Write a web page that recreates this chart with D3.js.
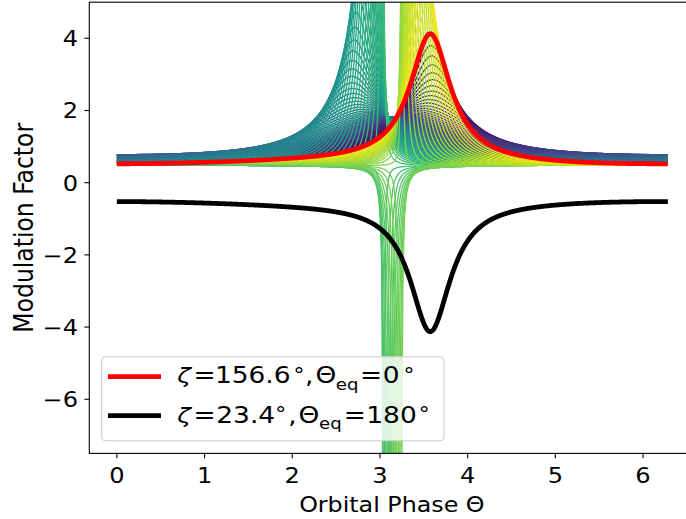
<!DOCTYPE html>
<html>
<head>
<meta charset="utf-8">
<script src="https://cdn.jsdelivr.net/npm/d3@7"></script>
<style>
  html, body { margin: 0; padding: 0; background: #ffffff; }
  text { font-family: "DejaVu Sans", sans-serif; fill: #000000; }
</style>
</head>
<body>
<svg id="chart" width="686" height="519"></svg>
<script>
// ---- model parameters -------------------------------------------------
// observer inclination (degrees)
const inclination = 45;
// highlighted configurations: obliquity ζ and equinox phase Θ_eq (degrees)
const highlightZeta    = [156.6, 23.4];
const highlightThetaEq = [0, 180];
const highlightLabelZeta    = ["156.6", "23.4"];
const highlightLabelThetaEq = ["0", "180"];
// family of curves: same obliquity, equinox phase swept over one turn
const familyZeta = 156.6;
const familyCount = 100;
const familyThetaEq = d3.range(familyCount).map(k => 360 * k / (familyCount - 1));
// axis ticks
const xTicks = [0, 1, 2, 3, 4, 5, 6];
const yTicks = [-6, -4, -2, 0, 2, 4];
// orbital phase sampling
const phaseSamples = 2400;
const thetaGrid = d3.range(phaseSamples + 1).map(k => 2 * Math.PI * k / phaseSamples);

// ---- geometry: apparent spin-phase drift per orbital phase -------------
const rad = d => d * Math.PI / 180;
function modulationFactor(theta, zetaDeg, eqDeg, incDeg) {
  const z = rad(zetaDeg), q = rad(eqDeg), inc = rad(incDeg);
  // spin axis
  const s = [Math.sin(z) * Math.sin(q), -Math.sin(z) * Math.cos(q), Math.cos(z)];
  // observer direction + star direction, and its derivative in theta
  const w  = [-Math.sin(inc) - Math.cos(theta), -Math.sin(theta), Math.cos(inc)];
  const dw = [Math.sin(theta), -Math.cos(theta), 0];
  const c = [w[1] * dw[2] - w[2] * dw[1],
             w[2] * dw[0] - w[0] * dw[2],
             w[0] * dw[1] - w[1] * dw[0]];
  const num = s[0] * c[0] + s[1] * c[1] + s[2] * c[2];
  const ws = w[0] * s[0] + w[1] * s[1] + w[2] * s[2];
  const ww = w[0] * w[0] + w[1] * w[1] + w[2] * w[2];
  return -num / (ww - ws * ws);
}

// ---- layout ------------------------------------------------------------
const svg = d3.select("#chart");
const plot = { left: 89.3, right: 695.4, top: 2.2, bottom: 453.4 };
const textStretch = 1.16;

const x = d3.scaleLinear().domain([-0.1 * Math.PI, 2.1 * Math.PI]).range([plot.left, plot.right]);
const y = d3.scaleLinear().domain([-7.5, 5]).range([plot.bottom, plot.top]);

svg.append("defs").append("clipPath").attr("id", "plot-clip")
  .append("rect")
  .attr("x", plot.left).attr("y", plot.top)
  .attr("width", plot.right - plot.left).attr("height", plot.bottom - plot.top);

const clampY = v => Math.max(-80, Math.min(80, v));
const line = d3.line().x(d => x(d[0])).y(d => y(clampY(d[1])));

const curves = svg.append("g").attr("clip-path", "url(#plot-clip)");

// family, drawn in order of equinox phase
familyThetaEq.forEach((q, i) => {
  const pts = thetaGrid.map(t => [t, modulationFactor(t, familyZeta, q, inclination)]);
  curves.append("path")
    .attr("d", line(pts))
    .attr("fill", "none")
    .attr("stroke", d3.interpolateViridis(i / (familyCount - 1)))
    .attr("stroke-width", 1.3)
    .attr("stroke-linejoin", "round");
});

const highlightColor = ["#ff0000", "#000000"];
highlightZeta.forEach((zeta, k) => {
  const pts = thetaGrid.map(t => [t, modulationFactor(t, zeta, highlightThetaEq[k], inclination)]);
  curves.append("path")
    .attr("d", line(pts))
    .attr("fill", "none")
    .attr("stroke", highlightColor[k])
    .attr("stroke-width", 4.8)
    .attr("stroke-linejoin", "round")
    .attr("stroke-linecap", "butt");
});

// ---- axes --------------------------------------------------------------
const axisColor = "#000000";
svg.append("rect")
  .attr("x", plot.left).attr("y", plot.top)
  .attr("width", plot.right - plot.left).attr("height", plot.bottom - plot.top)
  .attr("fill", "none").attr("stroke", axisColor).attr("stroke-width", 1.1);

const tickLen = 4.9;
const tickFont = 20.8;
const xAxis = svg.append("g");
xTicks.forEach(v => {
  xAxis.append("line")
    .attr("x1", x(v)).attr("x2", x(v))
    .attr("y1", plot.bottom).attr("y2", plot.bottom + tickLen)
    .attr("stroke", axisColor).attr("stroke-width", 1.1);
  xAxis.append("text")
    .attr("transform", `translate(${x(v)},483) scale(${textStretch},1)`)
    .attr("text-anchor", "middle")
    .attr("font-size", tickFont)
    .text(d3.format("d")(v));
});

const yAxis = svg.append("g");
yTicks.forEach(v => {
  yAxis.append("line")
    .attr("x1", plot.left - tickLen).attr("x2", plot.left)
    .attr("y1", y(v)).attr("y2", y(v))
    .attr("stroke", axisColor).attr("stroke-width", 1.1);
  yAxis.append("text")
    .attr("transform", `translate(78,${y(v) + 8}) scale(${textStretch},1)`)
    .attr("text-anchor", "end")
    .attr("font-size", tickFont)
    .text(v < 0 ? "\u2212" + Math.abs(v) : String(v));
});

svg.append("text")
  .attr("transform", `translate(${(plot.left + plot.right) / 2 - 0.5},512) scale(${textStretch},1)`)
  .attr("text-anchor", "middle")
  .attr("font-size", 20.5)
  .text("Orbital Phase \u0398");

svg.append("text")
  .attr("transform", `translate(33,${(plot.top + plot.bottom) / 2}) scale(1.1,1) rotate(-90)`)
  .attr("text-anchor", "middle")
  .attr("font-size", 23.5)
  .text("Modulation Factor");

// ---- legend ------------------------------------------------------------
const legend = svg.append("g");
legend.append("rect")
  .attr("x", 101.7).attr("y", 356.7)
  .attr("width", 342.3).attr("height", 84)
  .attr("rx", 4).attr("ry", 4)
  .attr("fill", "#ffffff").attr("fill-opacity", 0.8)
  .attr("stroke", "#cccccc").attr("stroke-width", 1.1);

const legendRows = [376.7, 415.7];
const legendBase = [383.3, 422.7];
const legendStretch = 1.17;
// horizontal offsets of the mathtext pieces in each row (unstretched units)
const pieceX = [
  { zeta: 0.3, eq1: 14.2, num: 32.4, deg1: 104.2, comma: 109.4, Theta: 118.3, sub: 135.8, eq2: 156.4, num2: 175.8, deg2: 198.2 },
  { zeta: 0.3, eq1: 14.2, num: 33.6, deg1: 88.7,  comma: 95.0,  Theta: 103.9, sub: 121.4, eq2: 142.6, num2: 161.8, deg2: 211.2 }
];
highlightZeta.forEach((zeta, k) => {
  legend.append("line")
    .attr("x1", 108).attr("x2", 161)
    .attr("y1", legendRows[k]).attr("y2", legendRows[k])
    .attr("stroke", highlightColor[k]).attr("stroke-width", 4.8);
  const g = legend.append("g")
    .attr("transform", `translate(177,${legendBase[k]}) scale(${legendStretch},1)`);
  const p = pieceX[k];
  const F = 22.6, S = 15.5;
  g.append("text").attr("x", p.zeta).attr("font-size", 21.5).attr("font-style", "italic").text("\u03b6");
  g.append("text").attr("x", p.eq1).attr("font-size", F).text("=");
  g.append("text").attr("x", p.num).attr("font-size", F).text(highlightLabelZeta[k]);
  g.append("text").attr("x", p.deg1).attr("y", -7.4).attr("text-anchor", "middle").attr("font-size", 19).text("\u2218");
  g.append("text").attr("x", p.comma).attr("font-size", F).text(",");
  g.append("text").attr("x", p.Theta).attr("font-size", F).text("\u0398");
  g.append("text").attr("x", p.sub).attr("y", 6.5).attr("font-size", S).text("eq");
  g.append("text").attr("x", p.eq2).attr("font-size", F).text("=");
  g.append("text").attr("x", p.num2).attr("font-size", F).text(highlightLabelThetaEq[k]);
  g.append("text").attr("x", p.deg2).attr("y", -7.4).attr("text-anchor", "middle").attr("font-size", 19).text("\u2218");
});
</script>
</body>
</html>
